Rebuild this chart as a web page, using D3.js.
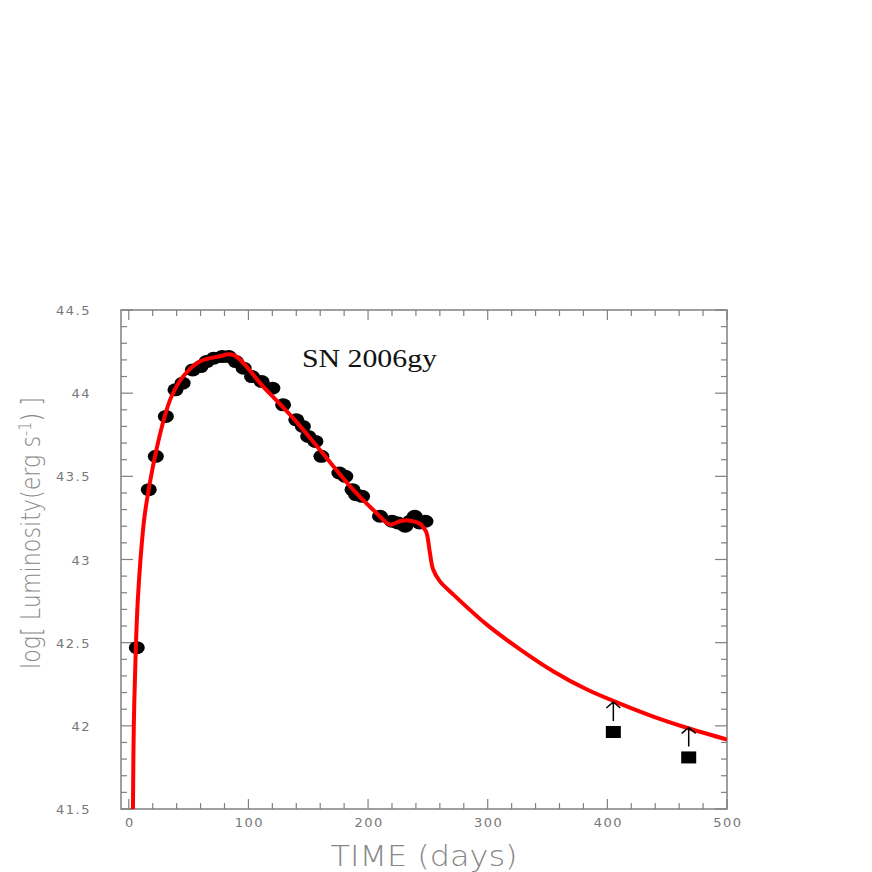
<!DOCTYPE html>
<html>
<head>
<meta charset="utf-8">
<script src="https://cdn.jsdelivr.net/npm/d3@7"></script>
<style>
    body { margin: 0; background: #fff; }
    svg { display: block; }
    .tick-label { font-family: "DejaVu Sans", sans-serif; font-size: 13px; fill: #777; letter-spacing: 1.5px; }
    .axis-title { font-family: "DejaVu Sans", sans-serif; fill: #888; font-weight: 200; }
</style>
</head>
<body>
<div id="chart"></div>
<script>
// observed luminosity (time in days, log L)
const obsDays = [6.7, 16.7, 22.6, 31, 39, 45, 53.5, 60, 65, 71, 78, 83.6, 89.5, 96, 103, 111, 120, 129,
    140, 145.5, 150, 156, 161, 176, 181, 187, 190, 195, 210, 220, 225, 231, 235, 239, 243, 248];
const obsLogL = [42.47, 43.42, 43.62, 43.86, 44.02, 44.06, 44.14, 44.16, 44.19, 44.21, 44.22, 44.22, 44.19,
    44.15, 44.10, 44.07, 44.03, 43.93, 43.84, 43.80, 43.74, 43.71, 43.62, 43.52, 43.50, 43.42, 43.39, 43.38,
    43.26, 43.23, 43.22, 43.20, 43.23, 43.26, 43.22, 43.23];

// lower limits (late-time points)
const limDays = [405, 468];
const limLogL = [41.963, 41.81];

// model light curve
const modelDays = [3.5, 4.2, 5.9, 7.5, 9.8, 13, 17.6, 23.1, 30, 35.7, 45.4, 59.4, 75, 87.2,
    112.3, 137.4, 159.7, 187.5, 207, 218.2, 226.6, 233.5, 243.3, 246.5, 248.9, 251.7, 254.4, 259.9,
    271.2, 299, 327, 355, 383, 411, 439, 467, 500];
const modelLogL = [41.5, 42.0, 42.47, 42.75, 43.0, 43.25, 43.46, 43.66, 43.86, 43.98, 44.10, 44.19, 44.22, 44.23,
    44.04, 43.85, 43.66, 43.42, 43.28, 43.21, 43.23, 43.235, 43.215, 43.19, 43.16, 43.04, 42.94, 42.87,
    42.79, 42.61, 42.46, 42.327, 42.218, 42.132, 42.054, 41.987, 41.918];

const xMajor = [0, 100, 200, 300, 400, 500];
const yMajor = [41.5, 42, 42.5, 43, 43.5, 44, 44.5];
const yTickText = ['41.5', '42', '42.5', '43', '43.5', '44', '44.5'];

const W = 872, H = 872;
const margin = { top: 310, right: 145, bottom: 63, left: 121 };
const iw = W - margin.left - margin.right;
const ih = H - margin.top - margin.bottom;

const svg = d3.select('#chart').append('svg')
    .attr('width', W)
    .attr('height', H);

const g = svg.append('g')
    .attr('transform', `translate(${margin.left},${margin.top})`);

const x = d3.scaleLinear().domain([-6.5, 500]).range([0, iw]);
const y = d3.scaleLinear().domain([41.5, 44.5]).range([ih, 0]);

const axisColor = '#808080';

// ticks (inward on all four sides)
const xMinor = d3.range(0, 501, 20).filter(d => d % 100 !== 0);
const yMinor = d3.range(41.5, 44.5001, 0.1).filter(d => Math.abs(d * 2 - Math.round(d * 2)) > 0.01);
const isMajorY = d => yMajor.includes(d);

const ticks = g.append('g')
    .attr('stroke', axisColor)
    .attr('stroke-width', 1.2);

// bottom + top
ticks.selectAll('line.xb').data(xMajor.concat(xMinor)).enter().append('line')
    .attr('class', 'xb')
    .attr('x1', d => x(d)).attr('x2', d => x(d))
    .attr('y1', ih).attr('y2', d => ih - (d % 100 === 0 ? 10 : 6));
ticks.selectAll('line.xt').data(xMajor.concat(xMinor)).enter().append('line')
    .attr('class', 'xt')
    .attr('x1', d => x(d)).attr('x2', d => x(d))
    .attr('y1', 0).attr('y2', d => (d % 100 === 0 ? 10 : 6));
// left + right
ticks.selectAll('line.yl').data(yMajor.concat(yMinor)).enter().append('line')
    .attr('class', 'yl')
    .attr('y1', d => y(d)).attr('y2', d => y(d))
    .attr('x1', 0).attr('x2', d => (isMajorY(d) ? 12 : 6));
ticks.selectAll('line.yr').data(yMajor.concat(yMinor)).enter().append('line')
    .attr('class', 'yr')
    .attr('y1', d => y(d)).attr('y2', d => y(d))
    .attr('x1', iw).attr('x2', d => iw - (isMajorY(d) ? 12 : 6));

g.append('rect')
    .attr('width', iw).attr('height', ih)
    .attr('fill', 'none')
    .attr('stroke', axisColor)
    .attr('stroke-width', 1.5);

// tick labels
g.selectAll('text.xl').data(xMajor).enter().append('text')
    .attr('class', 'tick-label')
    .attr('x', d => x(d) + 1)
    .attr('y', ih + 18)
    .attr('text-anchor', 'middle')
    .text(d => d);

g.selectAll('text.ylab').data(yMajor).enter().append('text')
    .attr('class', 'tick-label')
    .attr('x', -30)
    .attr('y', d => y(d) + 5)
    .attr('text-anchor', 'end')
    .text((d, i) => yTickText[i]);

// axis titles
svg.append('text')
    .attr('class', 'axis-title')
    .attr('x', margin.left + iw / 2)
    .attr('y', 866)
    .attr('text-anchor', 'middle')
    .style('font-size', '28px')
    .attr('textLength', 187)
    .attr('lengthAdjust', 'spacingAndGlyphs')
    .text('TIME (days)');

const yt = svg.append('text')
    .attr('class', 'axis-title')
    .attr('transform', `translate(40,${533}) rotate(-90)`)
    .attr('text-anchor', 'middle')
    .style('font-size', '26px')
    .attr('textLength', 272)
    .attr('lengthAdjust', 'spacingAndGlyphs');
yt.append('tspan').text('log[ Luminosity(erg s');
yt.append('tspan').attr('dy', -9).style('font-size', '17px').text('-1');
yt.append('tspan').attr('dy', 9).text(') ]');

// title
g.append('text')
    .attr('x', 181)
    .attr('y', 57)
    .style('font-family', '"Liberation Serif", "Times New Roman", serif')
    .style('font-size', '25px')
    .attr('textLength', 135)
    .attr('lengthAdjust', 'spacingAndGlyphs')
    .attr('fill', '#111')
    .text('SN 2006gy');

// clip
svg.append('defs').append('clipPath').attr('id', 'clip')
    .append('rect').attr('width', iw).attr('height', ih);

const plot = g.append('g').attr('clip-path', 'url(#clip)');

// observed points
plot.selectAll('ellipse').data(obsDays).enter().append('ellipse')
    .attr('cx', d => x(d))
    .attr('cy', (d, i) => y(obsLogL[i]))
    .attr('rx', 8)
    .attr('ry', 6.5)
    .attr('fill', '#000');

// model curve
const line = d3.line()
    .x(d => x(d[0]))
    .y(d => y(d[1]))
    .curve(d3.curveCatmullRom.alpha(0.5));

plot.append('path')
    .datum(modelDays.map((d, i) => [d, modelLogL[i]]))
    .attr('d', line)
    .attr('fill', 'none')
    .attr('stroke', '#ff0000')
    .attr('stroke-width', 4);

// lower limits: squares with upward arrows
const lims = plot.selectAll('g.lim').data(limDays).enter().append('g').attr('class', 'lim');
lims.append('rect')
    .attr('x', d => x(d) - 7.5)
    .attr('y', (d, i) => y(limLogL[i]) - 6)
    .attr('width', 15)
    .attr('height', 12)
    .attr('fill', '#000');
lims.append('path')
    .attr('d', (d, i) => {
        const cx = x(d), top = y(limLogL[i]) - 30, bot = y(limLogL[i]) - 11;
        return `M${cx},${bot}L${cx},${top}M${cx - 7},${top + 6}L${cx},${top}L${cx + 7},${top + 6}`;
    })
    .attr('fill', 'none')
    .attr('stroke', '#000')
    .attr('stroke-width', 1.5);
</script>
</body>
</html>
